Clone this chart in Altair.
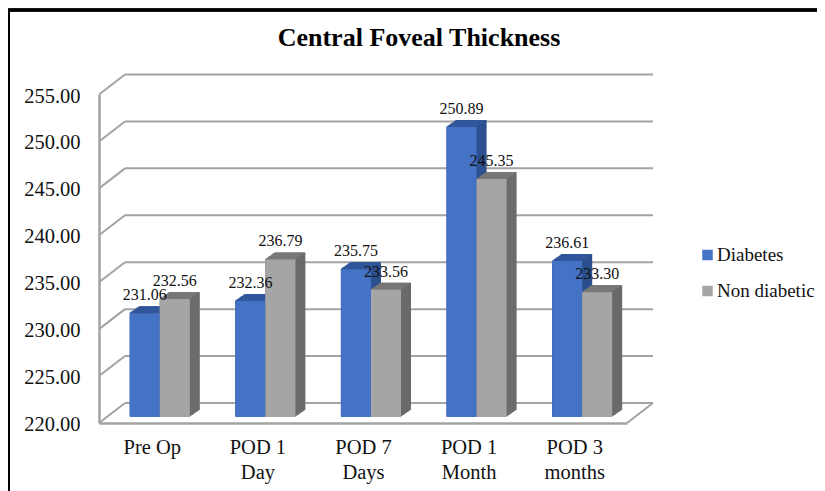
import json
import altair as alt
import pandas as pd

categories = ["Pre Op", "POD 1\nDay", "POD 7\nDays", "POD 1\nMonth", "POD 3\nmonths"]
series_names = ["Diabetes", "Non diabetic"]
diabetes = [231.06, 232.36, 235.75, 250.89, 236.61]
non_diabetic = [232.56, 236.79, 233.56, 245.35, 233.30]
ticks = [220, 225, 230, 235, 240, 245, 250, 255]

FONT = "Liberation Serif"
W, H = 528, 328.5
GRID = "#a3a3a3"
INK = "#111111"
UNIT_Y = H / 35            # pixels per y unit
UNIT_X = W / len(categories)  # pixels per category slot
BAR = 30                   # bar width, pixels

rows = []
for i, c in enumerate(categories):
    rows.append({"Idx": i, "Side": 0, "Series": series_names[0], "Value": diabetes[i]})
    rows.append({"Idx": i, "Side": 1, "Series": series_names[1], "Value": non_diabetic[i]})
df = pd.DataFrame(rows)
tick_df = pd.DataFrame({"Tick": ticks})

cat_js = json.dumps(categories)
x_axis = alt.Axis(values=[i + 0.5 for i in range(len(categories))], title=None,
                  labelAngle=0, labelExpr=f"split({cat_js}[floor(datum.value)], '\\n')",
                  labelLineHeight=25, labelFont=FONT, labelFontSize=20.5, labelColor=INK,
                  labelPadding=14, labelBaseline="top", labelAlign="center", labelLimit=200,
                  labelFlush=False, labelOverlap=False, ticks=False, grid=False,
                  domainColor=GRID, domainWidth=2.5)
y_axis = alt.Axis(values=ticks, format=".2f", grid=False, ticks=False, title=None,
                  labelFont=FONT, labelFontSize=20.5, labelColor=INK, labelPadding=19,
                  labelOffset=1.5, domainColor=GRID, domainWidth=2.5)
x_scale = alt.Scale(domain=[0, len(categories)], nice=False, zero=False)
y_scale = alt.Scale(domain=[220, 255], zero=False, nice=False)


def slab(dx, dy, blue=None, gray=None, legend=False):
    """One bar layer, shifted by (dx, dy) pixels into the depth of the 3D view."""
    ch = (
        alt.Chart(df)
        .transform_calculate(
            X0=f"datum.Idx + 0.5 + (datum.Side * {BAR} - {BAR} + {dx}) / {UNIT_X}",
            X1=f"datum.X0 + {BAR} / {UNIT_X}",
            Y0=f"220 + {dy} / {UNIT_Y}",
            Y1=f"datum.Value + {dy} / {UNIT_Y}",
        )
        .mark_rect()
    )
    if legend:
        color = alt.Color(
            "Series:N", sort=series_names,
            scale=alt.Scale(domain=series_names, range=["#4472c4", "#a5a5a5"]),
            legend=alt.Legend(orient="none", legendX=599, legendY=151, title=None,
                              symbolType="square", symbolSize=110, symbolStrokeWidth=0,
                              labelFont=FONT, labelFontSize=19, labelColor=INK,
                              labelOffset=0, rowPadding=16, labelLimit=200, padding=0),
        )
    else:
        color = alt.condition(alt.datum.Side == 0, alt.value(blue), alt.value(gray))
    return ch.encode(
        x=alt.X("X0:Q", scale=x_scale, axis=x_axis), x2="X1:Q",
        y=alt.Y("Y1:Q", scale=y_scale, axis=y_axis), y2="Y0:Q",
        color=color,
    )


def frame_rule(data_filter, x0_expr, x1_expr, y0_expr, y1_expr):
    ch = alt.Chart(tick_df)
    if data_filter:
        ch = ch.transform_filter(data_filter)
    return (
        ch.transform_calculate(X0=x0_expr, X1=x1_expr, Y0=y0_expr, Y1=y1_expr)
        .mark_rule(color=GRID, strokeWidth=2)
        .encode(x=alt.X("X0:Q", scale=x_scale, axis=x_axis), x2="X1:Q",
                y=alt.Y("Y0:Q", scale=y_scale, axis=y_axis), y2="Y1:Q")
    )


N = len(categories)
DX = f"26 / {UNIT_X}"
DY = f"20 / {UNIT_Y}"
back_lines = frame_rule(None, DX, f"{N} + {DX}", f"datum.Tick + {DY}", f"datum.Tick + {DY}")
wall_lines = frame_rule(None, "0", DX, "datum.Tick", f"datum.Tick + {DY}")
floor_edge = frame_rule("datum.Tick == 220", f"{N}", f"{N} + {DX}", "datum.Tick", f"datum.Tick + {DY}")

layers = [back_lines, wall_lines, floor_edge]

# extruded depth of the bars, painted back to front
for k in range(10, 0, -1):
    d = 8 + k
    up = 6 + 0.7 * k
    layers.append(slab(d, up, "#2c4f8e", "#6a6a6a"))
    layers.append(slab(d - 1.2, up, "#33589f", "#7c7c7c"))

layers.append(slab(8, 6, legend=True))

labels = (
    alt.Chart(df)
    .transform_calculate(X0=f"datum.Idx + 0.5 + (datum.Side * {BAR} - {BAR} / 2 + 8) / {UNIT_X}")
    .mark_text(font=FONT, fontSize=16, color=INK, dy=-24, baseline="middle", align="center")
    .encode(x=alt.X("X0:Q", scale=x_scale, axis=x_axis),
            y=alt.Y("Value:Q", scale=y_scale, axis=y_axis),
            text=alt.Text("Value:Q", format=".2f"))
)
layers.append(labels)

border_top = alt.Chart(tick_df).mark_rule(color="#000000", strokeWidth=2.5).encode(
    x=alt.value(-91), x2=alt.value(W + 190), y=alt.value(-84.5))
border_left = alt.Chart(tick_df).mark_rule(color="#000000", strokeWidth=3).encode(
    x=alt.value(-91), y=alt.value(-84.5), y2=alt.value(H + 68))
layers += [border_top, border_left]

chart = (
    alt.layer(*layers)
    .properties(
        width=W,
        height=H,
        autosize=alt.AutoSizeParams(type="none"),
        padding={"left": 91, "top": 86.5, "right": 190, "bottom": 68},
        title=alt.TitleParams("Central Foveal Thickness", font=FONT, fontSize=26, fontWeight="bold",
                              color="#000000", anchor="middle", frame="group", dx=56, offset=-42),
    )
    .configure_view(stroke=None)
)

chart.save("out.html", embed_options={"renderer": "svg", "actions": False})
